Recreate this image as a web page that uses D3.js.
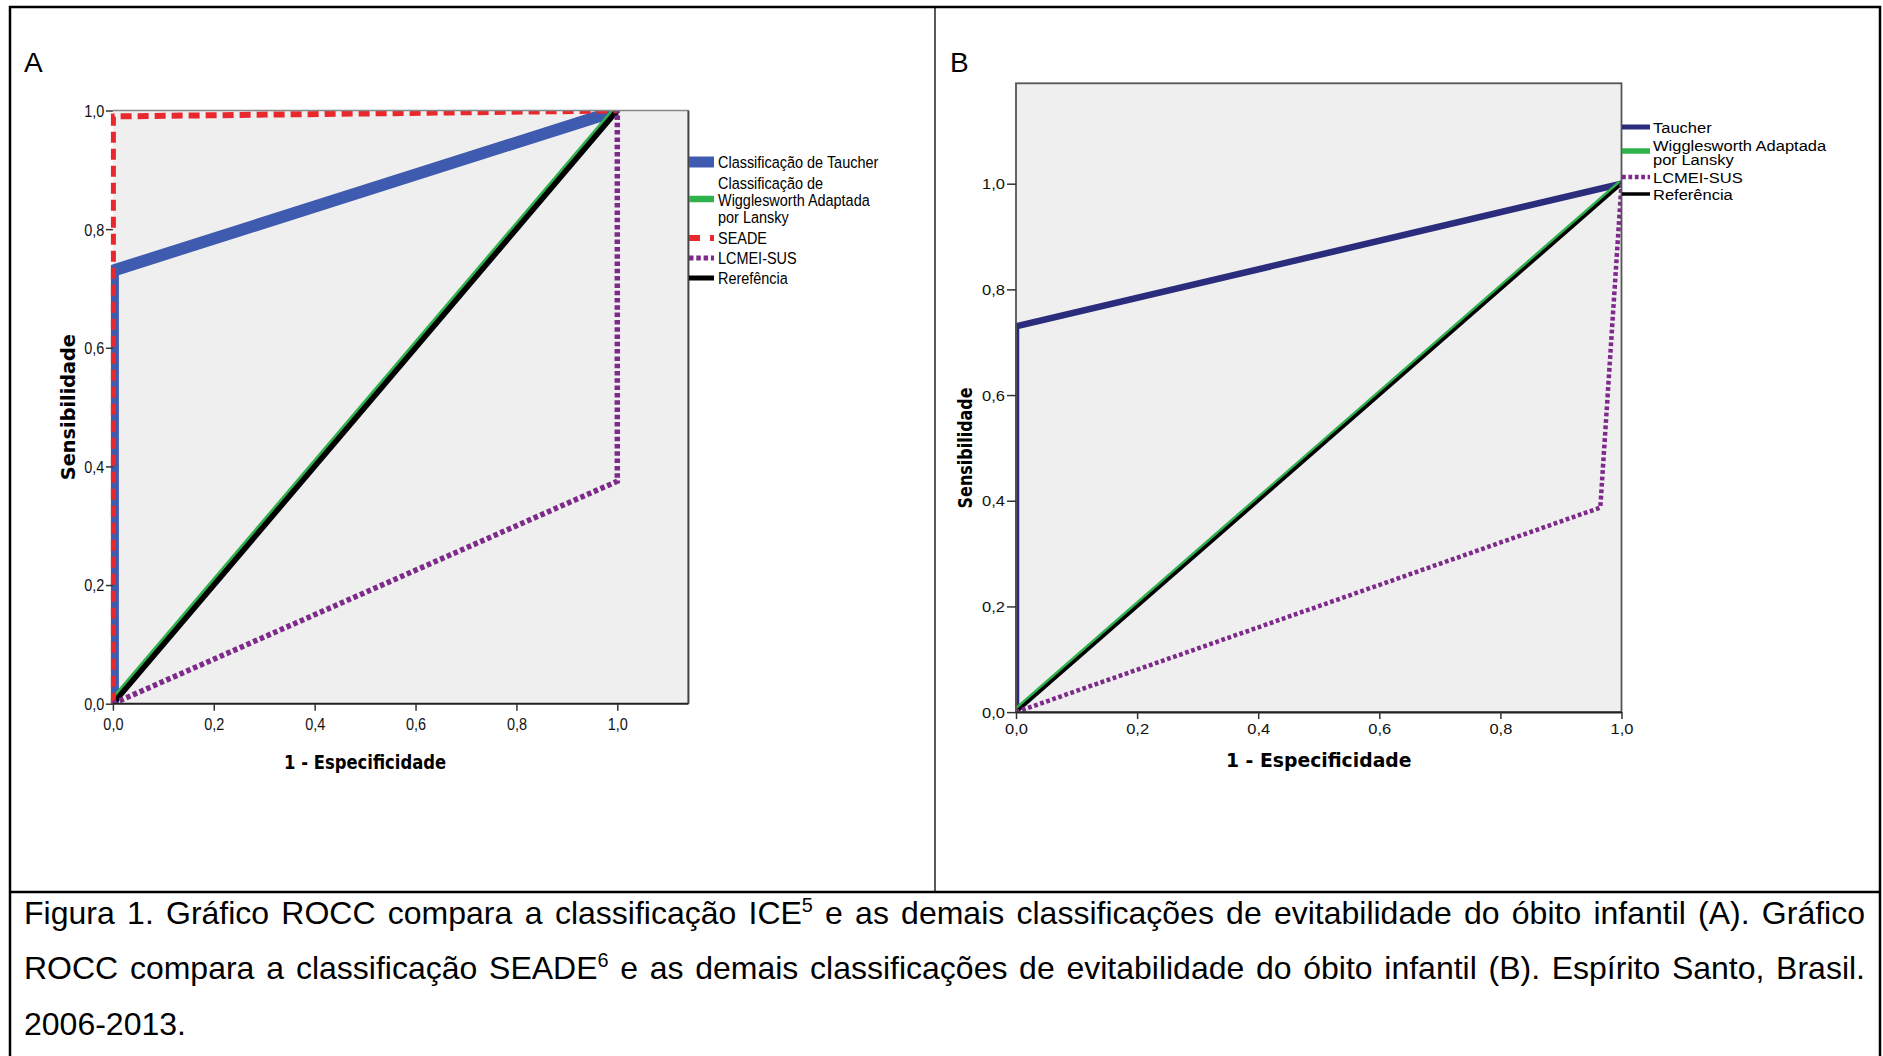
<!DOCTYPE html>
<html><head><meta charset="utf-8">
<script src="https://cdn.jsdelivr.net/npm/d3@7"></script>
<style>html,body{margin:0;padding:0;background:#fff;} svg{display:block;}</style>
</head><body>
<svg id="chart" width="1883" height="1056"></svg>
<script>
// ---------------- data ----------------
const tickValues = [0, 0.2, 0.4, 0.6, 0.8, 1.0];
const tickLabels = ["0,0", "0,2", "0,4", "0,6", "0,8", "1,0"];

// Panel A (ICE as reference standard)
const tauA_x = [0, 0, 1],      tauA_y = [0, 0.73, 1];
const wigA_x = [0, 1],         wigA_y = [0, 1];
const seadeA_x = [0, 0, 1],    seadeA_y = [0, 0.99, 1];
const lcmeiA_x = [0, 1, 1],    lcmeiA_y = [0, 0.375, 1];
const refA_x = [0, 1],         refA_y = [0, 1];
const legendA = [["Classificação de Taucher"], ["Classificação de", "Wigglesworth Adaptada", "por Lansky"], ["SEADE"], ["LCMEI-SUS"], ["Rerefência"]];

// Panel B (SEADE as reference standard)
const tauB_x = [0, 0, 1],      tauB_y = [0, 0.73, 1];
const wigB_x = [0, 1],         wigB_y = [0, 1];
const lcmeiB_x = [0, 0.965, 1], lcmeiB_y = [0, 0.387, 1];
const refB_x = [0, 1],         refB_y = [0, 1];
const legendB = [["Taucher"], ["Wigglesworth Adaptada", "por Lansky"], ["LCMEI-SUS"], ["Referência"]];

const xTitle = "1 - Especificidade";
const yTitle = "Sensibilidade";

const captionLines = [
  "Figura 1. Gráfico ROCC compara a classificação ICE^5 e as demais classificações de evitabilidade do óbito infantil (A). Gráfico",
  "ROCC compara a classificação SEADE^6 e as demais classificações de evitabilidade do óbito infantil (B). Espírito Santo, Brasil.",
  "2006-2013."
];
const captionJustify = [true, true, false];

// ---------------- styles ----------------
const C = {
  blueA: "#3F5BAF", navyB: "#2B2D7C", green: "#2FB24B", red: "#E8282C",
  purple: "#7E2A8B", black: "#000", plotBg: "#EFEFEF", frame: "#444"
};
const SANS = "'Liberation Sans', Arial, sans-serif";
const TITLE = "'DejaVu Sans', Verdana, sans-serif";

const svg = d3.select("#chart");
const defs = svg.append("defs");

function stext(g, x, y, str, o) {
  return g.append("text")
    .attr("transform", `translate(${x},${y}) rotate(${o.rot || 0}) scale(${o.sx || 1},${o.sy || 1})`)
    .attr("font-family", o.family || SANS)
    .attr("font-size", o.size)
    .attr("font-weight", o.weight || "normal")
    .attr("text-anchor", o.anchor || "start")
    .attr("dominant-baseline", "central")
    .attr("fill", o.fill || "#000")
    .text(str);
}

// ---------------- frame ----------------
svg.append("rect").attr("x", 10).attr("y", 7).attr("width", 1870).attr("height", 1070)
  .attr("fill", "none").attr("stroke", "#000").attr("stroke-width", 2.5);
svg.append("line").attr("x1", 935).attr("x2", 935).attr("y1", 7).attr("y2", 892)
  .attr("stroke", "#000").attr("stroke-width", 1.3);
svg.append("line").attr("x1", 10).attr("x2", 1880).attr("y1", 892).attr("y2", 892)
  .attr("stroke", "#000").attr("stroke-width", 2.5);

stext(svg, 24, 62, "A", {size: 28});
stext(svg, 950, 62, "B", {size: 28});

const lineGen = (xs, ys, sx, sy) => d3.line().x(d => sx(d[0])).y(d => sy(d[1]))(d3.zip(xs, ys));

// ================= PANEL A =================
(function () {
  const g = svg.append("g");
  const x = d3.scaleLinear().domain([0, 1]).range([112.9, 617.3]);
  const y = d3.scaleLinear().domain([0, 1]).range([703.7, 110.5]);
  const xMax = 1.141;
  const px0 = x(0), px1 = x(xMax), py0 = y(1), py1 = y(0);

  g.append("rect").attr("x", px0).attr("y", py0).attr("width", px1 - px0).attr("height", py1 - py0)
    .attr("fill", C.plotBg);

  defs.append("clipPath").attr("id", "clipA").append("rect")
    .attr("x", px0 - 2).attr("y", py0).attr("width", px1 - px0 + 2).attr("height", py1 - py0);
  const pg = g.append("g").attr("clip-path", "url(#clipA)");

  pg.append("path").attr("d", lineGen(tauA_x, tauA_y, x, y)).attr("fill", "none")
    .attr("stroke", C.blueA).attr("stroke-width", 12).attr("stroke-linejoin", "miter");
  pg.append("path").attr("d", lineGen(wigA_x, wigA_y, x, y)).attr("fill", "none")
    .attr("transform", "translate(-1.8,-1.4)")
    .attr("stroke", C.green).attr("stroke-width", 6);
  pg.append("path").attr("d", lineGen(refA_x, refA_y, x, y)).attr("fill", "none")
    .attr("stroke", C.black).attr("stroke-width", 5.5);
  pg.append("path").attr("d", lineGen(seadeA_x, seadeA_y, x, y)).attr("fill", "none")
    .attr("stroke", C.red).attr("stroke-width", 6).attr("stroke-dasharray", "11,6");
  pg.append("path").attr("d", lineGen(lcmeiA_x, lcmeiA_y, x, y)).attr("fill", "none")
    .attr("stroke", C.purple).attr("stroke-width", 5.5).attr("stroke-dasharray", "4.5,2.8");

  g.append("line").attr("x1", px0).attr("x2", px1).attr("y1", py0).attr("y2", py0).attr("stroke", "#888").attr("stroke-width", 1.5);
  g.append("line").attr("x1", px1).attr("x2", px1).attr("y1", py0).attr("y2", py1).attr("stroke", C.frame).attr("stroke-width", 2);

  const ax = g.append("g").attr("transform", `translate(0,${py1})`)
    .call(d3.axisBottom(x).tickValues(tickValues).tickSizeInner(7).tickSizeOuter(0)
      .tickFormat((d, i) => tickLabels[i]));
  ax.select(".domain").attr("d", `M${px0},0H${px1}`).attr("stroke", "#222").attr("stroke-width", 2);
  ax.selectAll(".tick line").attr("stroke", "#333").attr("stroke-width", 1.5);
  ax.selectAll(".tick text").attr("y", null).attr("dy", null)
    .attr("transform", "translate(0,20) scale(0.85,1)")
    .attr("dominant-baseline", "central").attr("font-family", SANS).attr("font-size", 17).attr("fill", "#111");

  const ay = g.append("g").attr("transform", `translate(${px0},0)`)
    .call(d3.axisLeft(y).tickValues(tickValues).tickSizeInner(7).tickSizeOuter(0)
      .tickFormat((d, i) => tickLabels[i]));
  ay.select(".domain").remove();
  ay.selectAll(".tick line").attr("stroke", "#333").attr("stroke-width", 1.5);
  ay.selectAll(".tick text").attr("x", null).attr("dy", null)
    .attr("transform", "translate(-8.5,0) scale(0.85,1)")
    .attr("dominant-baseline", "central").attr("font-family", SANS).attr("font-size", 17).attr("fill", "#111");

  stext(g, x(0.5), 762, xTitle, {size: 19.3, family: TITLE, weight: "bold", anchor: "middle", sx: 0.85});
  stext(g, 68, y(0.5), yTitle, {size: 19.3, family: TITLE, weight: "bold", anchor: "middle", rot: -90});

  const lx0 = 689, lx1 = 714, tx = 718;
  const rows = [162, 199, 238, 258, 278];
  const textRows = [[162], [183, 200, 217], [238], [258], [278]];
  const sw = [
    {c: C.blueA, w: 11}, {c: C.green, w: 6.5}, {c: C.red, w: 6, dash: "11,10"},
    {c: C.purple, w: 5, dash: "4.5,2.8"}, {c: C.black, w: 5}
  ];
  legendA.forEach((lines, i) => {
    g.append("line").attr("x1", lx0).attr("x2", lx1).attr("y1", rows[i]).attr("y2", rows[i])
      .attr("stroke", sw[i].c).attr("stroke-width", sw[i].w).attr("stroke-dasharray", sw[i].dash || null);
    lines.forEach((s, j) => stext(g, tx, textRows[i][j], s, {size: 17, sx: 0.85}));
  });
})();

// ================= PANEL B =================
(function () {
  const g = svg.append("g");
  const x = d3.scaleLinear().domain([0, 1]).range([1016, 1621.5]);
  const y = d3.scaleLinear().domain([0, 1]).range([712.1, 183.7]);
  const yMax = 1.19;
  const px0 = x(0), px1 = x(1), py0 = y(yMax), py1 = y(0);

  g.append("rect").attr("x", px0).attr("y", py0).attr("width", px1 - px0).attr("height", py1 - py0)
    .attr("fill", C.plotBg);
  defs.append("clipPath").attr("id", "clipB").append("rect")
    .attr("x", px0 - 1).attr("y", py0).attr("width", px1 - px0 + 1).attr("height", py1 - py0);
  const pg = g.append("g").attr("clip-path", "url(#clipB)");

  pg.append("path").attr("d", lineGen(tauB_x, tauB_y, x, y)).attr("fill", "none")
    .attr("stroke", C.navyB).attr("stroke-width", 6.5);
  pg.append("path").attr("d", lineGen(wigB_x, wigB_y, x, y)).attr("fill", "none")
    .attr("transform", "translate(-1.3,-1.1)")
    .attr("stroke", C.green).attr("stroke-width", 5);
  pg.append("path").attr("d", lineGen(refB_x, refB_y, x, y)).attr("fill", "none")
    .attr("stroke", C.black).attr("stroke-width", 3.5);
  pg.append("path").attr("d", lineGen(lcmeiB_x, lcmeiB_y, x, y)).attr("fill", "none")
    .attr("stroke", C.purple).attr("stroke-width", 4.5).attr("stroke-dasharray", "3.8,2.6");

  g.append("rect").attr("x", px0).attr("y", py0).attr("width", px1 - px0).attr("height", py1 - py0)
    .attr("fill", "none").attr("stroke", "#555").attr("stroke-width", 1.8);

  const ax = g.append("g").attr("transform", `translate(0,${py1})`)
    .call(d3.axisBottom(x).tickValues(tickValues).tickSizeInner(7).tickSizeOuter(0)
      .tickFormat((d, i) => tickLabels[i]));
  ax.select(".domain").attr("stroke", "#222").attr("stroke-width", 2);
  ax.selectAll(".tick line").attr("stroke", "#333").attr("stroke-width", 1.5);
  ax.selectAll(".tick text").attr("y", null).attr("dy", null)
    .attr("transform", "translate(0,17) scale(1,0.85)")
    .attr("dominant-baseline", "central").attr("font-family", SANS).attr("font-size", 16.5).attr("fill", "#111");

  const ay = g.append("g").attr("transform", `translate(${px0},0)`)
    .call(d3.axisLeft(y).tickValues(tickValues).tickSizeInner(9).tickSizeOuter(0)
      .tickFormat((d, i) => tickLabels[i]));
  ay.select(".domain").remove();
  ay.selectAll(".tick line").attr("stroke", "#333").attr("stroke-width", 1.5);
  ay.selectAll(".tick text").attr("x", null).attr("dy", null)
    .attr("transform", "translate(-11,0) scale(1,0.85)")
    .attr("dominant-baseline", "central").attr("font-family", SANS).attr("font-size", 16.5).attr("fill", "#111");

  stext(g, x(0.5), 760, xTitle, {size: 18.8, family: TITLE, weight: "bold", anchor: "middle"});
  stext(g, 966, y(0.5), yTitle, {size: 18.8, family: TITLE, weight: "bold", anchor: "middle", rot: -90, sx: 0.85});

  const lx0 = 1622, lx1 = 1650, tx = 1653;
  const rows = [127, 151, 177, 194];
  const textRows = [[128], [146, 160], [177.5], [195]];
  const sw = [
    {c: C.navyB, w: 5}, {c: C.green, w: 5.5}, {c: C.purple, w: 4.5, dash: "3.8,2.6"}, {c: C.black, w: 3.5}
  ];
  legendB.forEach((lines, i) => {
    g.append("line").attr("x1", lx0).attr("x2", lx1).attr("y1", rows[i]).attr("y2", rows[i])
      .attr("stroke", sw[i].c).attr("stroke-width", sw[i].w).attr("stroke-dasharray", sw[i].dash || null);
    lines.forEach((s, j) => stext(g, tx, textRows[i][j], s, {size: 16.5, sy: 0.85}));
  });
})();

// ================= CAPTION =================
(function () {
  const FS = 32;
  const g = svg.append("g").attr("font-family", SANS).attr("font-size", FS).attr("fill", "#000");
  const left = 24, right = 1865;
  const baselines = [924, 979, 1035];
  captionLines.forEach((line, li) => {
    const words = line.split(" ");
    const els = words.map(w => {
      const t = g.append("text").attr("x", 0).attr("y", baselines[li]);
      const parts = w.split("^");
      t.append("tspan").text(parts[0]);
      if (parts[1]) t.append("tspan").attr("font-size", "0.62em").attr("dy", "-0.62em").text(parts[1]);
      return t;
    });
    const widths = els.map(t => t.node().getBBox().width);
    const total = d3.sum(widths);
    const spaceW = FS * 0.278;
    const gap = captionJustify[li] && words.length > 1 ? (right - left - total) / (words.length - 1) : spaceW;
    let cx = left;
    els.forEach((t, i) => { t.attr("x", cx); cx += widths[i] + gap; });
  });
})();
</script>
</body></html>
